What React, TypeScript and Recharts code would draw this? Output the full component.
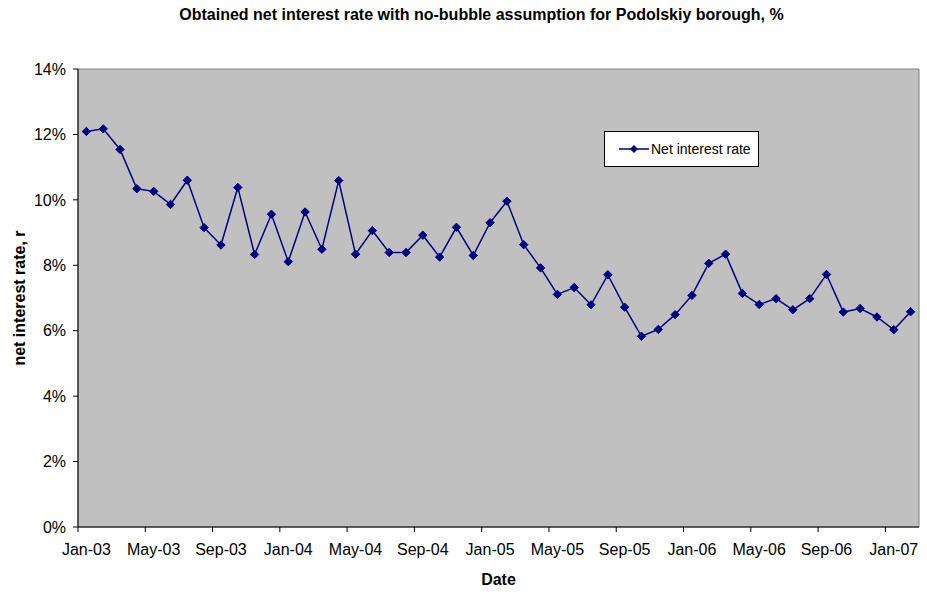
import React from "react";
import {
  LineChart,
  Line,
  XAxis,
  YAxis,
  CartesianGrid,
  ReferenceArea,
} from "recharts";

const MONTHS = [
  "Jan-03", "Feb-03", "Mar-03", "Apr-03", "May-03", "Jun-03", "Jul-03", "Aug-03", "Sep-03", "Oct-03", "Nov-03", "Dec-03",
  "Jan-04", "Feb-04", "Mar-04", "Apr-04", "May-04", "Jun-04", "Jul-04", "Aug-04", "Sep-04", "Oct-04", "Nov-04", "Dec-04",
  "Jan-05", "Feb-05", "Mar-05", "Apr-05", "May-05", "Jun-05", "Jul-05", "Aug-05", "Sep-05", "Oct-05", "Nov-05", "Dec-05",
  "Jan-06", "Feb-06", "Mar-06", "Apr-06", "May-06", "Jun-06", "Jul-06", "Aug-06", "Sep-06", "Oct-06", "Nov-06", "Dec-06",
  "Jan-07", "Feb-07",
];

const NET_RATE = [
  12.09, 12.17, 11.54, 10.34, 10.26, 9.86, 10.6, 9.15, 8.62, 10.38, 8.33, 9.56,
  8.11, 9.63, 8.49, 10.59, 8.34, 9.06, 8.39, 8.39, 8.92, 8.25, 9.16, 8.3,
  9.3, 9.96, 8.63, 7.92, 7.11, 7.32, 6.79, 7.71, 6.72, 5.83, 6.04, 6.49,
  7.08, 8.06, 8.34, 7.14, 6.8, 6.98, 6.64, 6.98, 7.72, 6.57, 6.68, 6.42,
  6.03, 6.58,
];

// every fourth month gets a tick on the category boundary
const X_TICKS = [0, 4, 8, 12, 16, 20, 24, 28, 32, 36, 40, 44, 48];
const Y_TICKS = [0, 2, 4, 6, 8, 10, 12, 14];

const FONT = "Arial, 'Liberation Sans', sans-serif";
const NAVY = "#000080";

// points sit in the middle of each month slot
const data = MONTHS.map((m, i) => ({ x: i + 0.5, month: m, rate: NET_RATE[i] }));

function Diamond(props: any) {
  const { cx, cy } = props;
  if (cx == null || cy == null) return null;
  const r = 4.2;
  return (
    <path
      d={`M${cx},${cy - r} L${cx + r},${cy} L${cx},${cy + r} L${cx - r},${cy} Z`}
      fill={NAVY}
      stroke={NAVY}
    />
  );
}

function LegendBox() {
  return (
    <div
      style={{
        position: "absolute",
        left: 604,
        top: 131,
        width: 153,
        height: 34,
        background: "#fff",
        border: "1px solid #000",
        display: "flex",
        alignItems: "center",
        fontFamily: FONT,
        fontSize: 14,
        color: "#000",
      }}
    >
      <svg width={30} height={10} style={{ marginLeft: 14, marginRight: 2 }}>
        <line x1={0} y1={5} x2={30} y2={5} stroke={NAVY} strokeWidth={1.5} />
        <path d="M15,1 L19,5 L15,9 L11,5 Z" fill={NAVY} />
      </svg>
      <span>Net interest rate</span>
    </div>
  );
}

export default function App() {
  return (
    <div style={{ position: "absolute", left: 0, top: 0, width: 927, height: 592, background: "#fff" }}>
      <div
        style={{
          position: "absolute",
          left: 0,
          top: 6,
          width: 963,
          textAlign: "center",
          fontFamily: FONT,
          fontWeight: "bold",
          fontSize: 16,
          color: "#000",
        }}
      >
        Obtained net interest rate with no-bubble assumption for Podolskiy borough, %
      </div>
      <LineChart
        width={927}
        height={592}
        data={data}
        margin={{ top: 69, right: 8, left: 0, bottom: 0 }}
        style={{ fontFamily: FONT }}
      >
        <ReferenceArea x1={0} x2={50} y1={0} y2={14} fill="#C0C0C0" fillOpacity={1} stroke="#808080" />
        <CartesianGrid horizontal vertical={false} stroke="#000" horizontalValues={[2, 4, 6, 8, 10, 12]} />
        <XAxis
          type="number"
          dataKey="x"
          domain={[0, 50]}
          ticks={X_TICKS}
          interval={0}
          tickFormatter={(v: number) => MONTHS[v]}
          height={65}
          stroke="#000"
          tickSize={5}
          tickMargin={12}
          // labels are centred on the month, half a slot right of the tick
          tick={{ fill: "#000", fontSize: 16, dx: 8.4 }}
          label={{ value: "Date", position: "insideBottom", offset: 7, fill: "#000", fontSize: 16, fontWeight: "bold" }}
        />
        <YAxis
          domain={[0, 14]}
          ticks={Y_TICKS}
          interval={0}
          tickFormatter={(v: number) => `${v}%`}
          width={78}
          stroke="#000"
          tickSize={5}
          tickMargin={7}
          tick={{ fill: "#000", fontSize: 16 }}
          label={{
            value: "net interest rate, r",
            angle: -90,
            position: "insideLeft",
            offset: 19,
            style: { textAnchor: "middle" },
            fill: "#000",
            fontSize: 16,
            fontWeight: "bold",
          }}
        />
        <Line
          dataKey="rate"
          stroke={NAVY}
          strokeWidth={1.5}
          dot={<Diamond />}
          activeDot={false}
          isAnimationActive={false}
        />
      </LineChart>
      <LegendBox />
    </div>
  );
}
